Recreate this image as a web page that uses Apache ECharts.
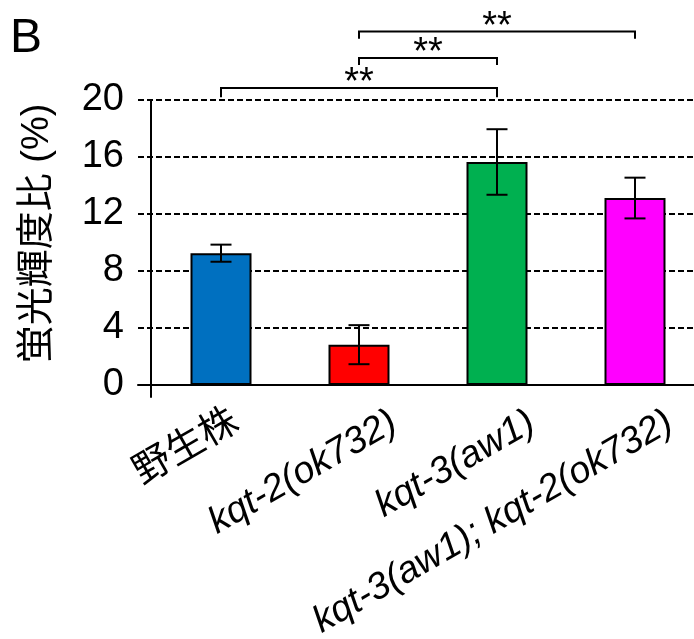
<!DOCTYPE html>
<html><head><meta charset="utf-8">
<script src="https://cdn.jsdelivr.net/npm/echarts@6/dist/echarts.min.js"></script>
<style>html,body{margin:0;padding:0;background:#fff}#c{width:694px;height:639px}</style>
</head><body><div id="c"></div><script>
const categories = ['野生株', 'kqt-2(ok732)', 'kqt-3(aw1)', 'kqt-3(aw1); kqt-2(ok732)'];
const italicLabel = [false, true, true, true];
const means = [9.25, 2.83, 15.65, 13.12];
const errors = [0.6, 1.37, 2.3, 1.43];
const barColors = ['#0070C0', '#FF0000', '#00B050', '#FF00FF'];
const yMin = 0, yMax = 20, yStep = 4;
const bracketFrom = [0, 1, 1];
const bracketTo = [2, 2, 3];
const bracketLevel = [20.85, 22.95, 24.8];
const bracketDrop = [0.65, 0.5, 0.5];
const bracketLabel = ['**', '**', '**'];

const LAT = '"Liberation Sans", Arial, Helvetica, sans-serif';
const JP = '"Liberation Sans", "Noto Sans CJK JP", sans-serif';
const FS = 38;

const chart = echarts.init(document.getElementById('c'), null, {renderer: 'canvas'});
const G = {outerBoundsMode: 'none', containLabel: false};
const option = {
  animation: false,
  backgroundColor: '#fff',
  title: {text: 'B', left: 10, top: 15, padding: 0,
    textStyle: {fontSize: 48, fontWeight: 'normal', fontFamily: LAT, color: '#000'}},
  grid: [
    Object.assign({left: 152, top: 100, width: 552, height: 285}, G),
    Object.assign({left: 138, top: 100, width: 566, height: 285}, G),
    Object.assign({left: 151, top: 100, width: 10, height: 297}, G),
    Object.assign({left: 187, top: 100, width: 552, height: 285}, G)
  ],
  xAxis: [
    {gridIndex: 0, type: 'category', data: categories, axisLine: {show: false}, axisTick: {show: false}, axisLabel: {show: false}, splitLine: {show: false}},
    {gridIndex: 1, type: 'value', min: 0, max: 1, axisLine: {show: true, onZero: false, lineStyle: {color: '#000', width: 2}}, axisTick: {show: false}, axisLabel: {show: false}, splitLine: {show: false}},
    {gridIndex: 2, type: 'value', min: 0, max: 1, show: false},
    {gridIndex: 3, type: 'category', data: categories, axisLine: {show: false}, axisTick: {show: false}, splitLine: {show: false},
      axisLabel: {rotate: 30, margin: 35, interval: 0, color: '#000',
        formatter: (v, i) => (italicLabel[i] ? '{i|' + v + '}' : '{n|' + v + '}'),
        rich: {
          n: {fontSize: FS, fontFamily: JP, color: '#000', padding: [0, 17, 22, 0]},
          i: {fontSize: 37.5, fontFamily: LAT, fontStyle: 'italic', color: '#000'}
        }}}
  ],
  yAxis: [
    {gridIndex: 0, type: 'value', min: yMin, max: yMax, interval: yStep,
      name: '蛍光輝度比 (%)', nameLocation: 'middle', nameGap: 95,
      nameTextStyle: {fontSize: FS, fontFamily: JP, color: '#000', padding: [0, 0, 0, 18]},
      axisLine: {show: false}, axisTick: {show: true, length: 5, lineStyle: {color: '#000', width: 2}},
      axisLabel: {margin: 28, fontSize: FS, fontFamily: LAT, color: '#000'}, splitLine: {show: false}},
    {gridIndex: 1, type: 'value', min: yMin, max: yMax, interval: yStep,
      axisLine: {show: false}, axisTick: {show: false}, axisLabel: {show: false},
      splitLine: {show: true, lineStyle: {color: '#000', width: 2, type: [6, 3]}}},
    {gridIndex: 2, type: 'value', min: 0, max: 1,
      axisLine: {show: true, onZero: false, lineStyle: {color: '#000', width: 2}},
      axisTick: {show: false}, axisLabel: {show: false}, splitLine: {show: false}},
    {gridIndex: 3, type: 'value', min: 0, max: 1, show: false}
  ],
  series: [
    {type: 'bar', xAxisIndex: 0, yAxisIndex: 0, barWidth: 61, z: 3,
      data: means.map((v, i) => ({value: v, itemStyle: {color: barColors[i], borderColor: '#000', borderWidth: 2}}))},
    {type: 'custom', xAxisIndex: 0, yAxisIndex: 0, z: 4,
      data: means.map((m, i) => [i, m, errors[i]]),
      renderItem: function (params, api) {
        const i = api.value(0), m = api.value(1), e = api.value(2);
        const top = api.coord([i, m + e]), bot = api.coord([i, m - e]);
        const hw = 10.5, st = {stroke: '#000', lineWidth: 2};
        return {type: 'group', children: [
          {type: 'line', shape: {x1: top[0], y1: top[1], x2: bot[0], y2: bot[1]}, style: st},
          {type: 'line', shape: {x1: top[0] - hw, y1: top[1], x2: top[0] + hw, y2: top[1]}, style: st},
          {type: 'line', shape: {x1: bot[0] - hw, y1: bot[1], x2: bot[0] + hw, y2: bot[1]}, style: st}
        ]};
      }},
    {type: 'custom', xAxisIndex: 0, yAxisIndex: 0, z: 4, clip: false,
      encode: {x: 0, y: 2},
      data: bracketFrom.map((f, k) => [f, bracketTo[k], bracketLevel[k], bracketDrop[k], k]),
      renderItem: function (params, api) {
        const f = api.value(0), t = api.value(1), lv = api.value(2), dr = api.value(3), k = api.value(4);
        const a = api.coord([f, lv - dr]), b = api.coord([f, lv]), c = api.coord([t, lv]), d = api.coord([t, lv - dr]);
        return {type: 'group', children: [
          {type: 'polyline', shape: {points: [a, b, c, d]}, style: {stroke: '#000', lineWidth: 2, fill: null}},
          {type: 'text', x: (b[0] + c[0]) / 2, y: b[1] - 4,
            style: {text: bracketLabel[k], fontSize: FS, fontFamily: LAT, fill: '#000', align: 'center', verticalAlign: 'middle'}}
        ]};
      }}
  ]
};
chart.setOption(option);
</script></body></html>
